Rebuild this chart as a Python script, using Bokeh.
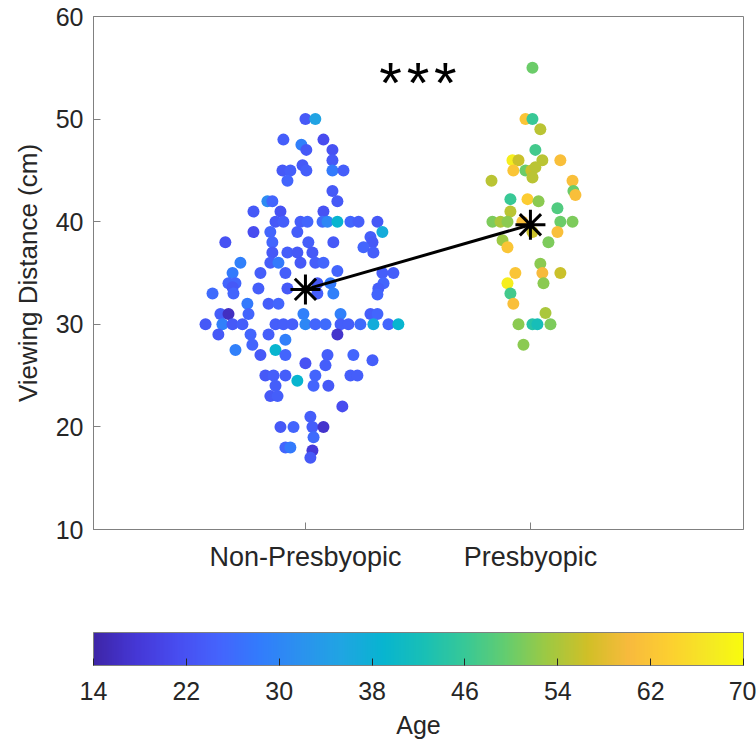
import numpy as np
from bokeh.plotting import figure
from bokeh.models import (ColumnDataSource, LinearColorMapper, ColorBar, FixedTicker,
                          Range1d, Title, Label)
from bokeh.embed import file_html
from bokeh.resources import INLINE

# ---------------- data ----------------
groups = ["Non-Presbyopic", "Presbyopic"]
group_pos = [1, 2]

# Non-presbyopic: horizontal jitter (x offset from group), viewing distance (cm), age
np_offset = [0.000, 0.044, -0.098, 0.080, -0.018, 0.004, 0.120, 0.120,
             -0.102, -0.067, -0.013, 0.004, 0.120, 0.169, -0.080, 0.120,
             0.142, -0.169, -0.147, -0.111, -0.231, 0.080,
             -0.133, -0.098, -0.022, 0.009, 0.076, 0.098, 0.142, 0.200, 0.236, 0.320,
             -0.231, -0.156, -0.036, 0.342, 0.289,
             -0.356, -0.147, 0.013, 0.124, 0.298, 0.258,
             -0.147, -0.080, -0.036, 0.031, 0.302,
             -0.289, -0.156, -0.120, -0.022, 0.044, 0.080,
             -0.324, -0.200, -0.089, 0.142, 0.342, 0.391,
             -0.342, -0.311, 0.053, 0.111, 0.347,
             -0.413, -0.324, -0.320, -0.209, -0.080, 0.053, 0.124, 0.324, 0.320,
             -0.258, -0.164, -0.120,
             -0.253, -0.378, -0.342, -0.009, 0.156, 0.289, 0.320,
             -0.444, -0.369, -0.324, -0.280, -0.133, -0.098, -0.058, 0.000, 0.044,
             0.089, 0.156, 0.191, 0.244, 0.302, 0.369, 0.413,
             -0.387, -0.244, -0.164, 0.142, -0.089, -0.236, -0.311, -0.133,
             -0.200, -0.089, 0.098, 0.213, 0.298, 0.000, 0.089,
             -0.178, -0.142, -0.089, 0.044, 0.200, 0.231, -0.036,
             -0.133, 0.036, 0.102, -0.156, -0.124, 0.164, 0.022,
             -0.111, -0.053, 0.031, 0.080, 0.036, -0.089, -0.067, 0.031, 0.022]
np_dist = [50, 50, 48, 48, 47.5, 47, 47, 46,
           45, 45, 45.5, 45, 45, 45, 44, 43,
           42, 42, 42, 41, 41, 41,
           40, 40, 40, 40, 40, 40, 40, 40, 40, 40,
           39, 39, 39, 39, 38.5,
           38, 38, 38, 38, 38, 37.5,
           37, 37, 37, 37, 37,
           36, 36, 36, 36, 36, 36,
           35, 35, 35, 35.2, 35, 35,
           34, 34, 34, 34, 34,
           33, 33.6, 33, 33.5, 33.5, 33, 33, 33.5, 32.9,
           32, 32, 32,
           31, 31, 31, 31, 31, 31, 31,
           30, 30, 30, 30, 30, 30, 30, 30, 30,
           30, 30, 30, 30, 30, 30, 30,
           29, 29, 29, 29, 28.5, 28, 27.5, 27.5,
           27, 27, 27, 27, 26.5, 26.2, 26,
           25, 25, 25, 25, 25, 25, 24.5,
           24, 24, 24, 23, 23, 22, 21,
           20, 20, 20, 20, 19, 18, 18, 17.7, 17]
np_age = [23, 35, 24, 21, 29, 23, 22, 23,
          23, 24, 23, 24, 28, 24, 25, 23,
          23, 31, 25, 22, 23, 22,
          23, 24, 24, 25, 26, 30, 39, 25, 24, 23,
          21, 25, 24, 37, 24,
          22, 25, 24, 23, 23, 25,
          23, 24, 23, 23, 24,
          29, 24, 28, 23, 24, 25,
          28, 24, 24, 25, 24, 24,
          25, 25, 23, 28, 25,
          26, 23, 25, 24, 23, 24, 29, 24, 25,
          28, 24, 25,
          25, 24, 16, 29, 29, 24, 25,
          23, 29, 23, 24, 24, 24, 24, 30, 25,
          26, 24, 24, 26, 37, 25, 39,
          23, 25, 24, 17, 29, 25, 29, 39,
          23, 25, 24, 25, 24, 22, 24,
          23, 24, 24, 25, 24, 24, 39,
          24, 25, 23, 23, 24, 21, 24,
          23, 25, 24, 17, 26, 25, 28, 18, 23]

# Presbyopic
p_offset = [0.009, -0.022, 0.009, 0.044, 0.022, -0.080, -0.053, 0.053, 0.133,
            -0.076, -0.022, 0.004, 0.022, 0.009, -0.173, 0.187, 0.191, 0.200,
            -0.089, -0.013, 0.036, -0.089, 0.120, -0.169, -0.133, -0.102, -0.036,
            0.009, 0.133, 0.187, 0.120, 0.080, -0.124, -0.102, 0.044, 0.053, 0.058,
            -0.067, 0.133, -0.102, -0.089, -0.076, 0.067, -0.053, 0.009, 0.031,
            0.089, -0.031]
p_dist = [55, 50, 50, 49, 47, 46, 46, 46, 46,
          45, 45, 45, 45.3, 44.3, 44, 44, 43, 42.6,
          42.2, 42.2, 42, 41, 41.3, 40, 40, 40, 40,
          39, 40, 40, 39, 38, 38.2, 37.5, 35.9, 35, 34,
          35, 35, 34, 33, 32, 31.1, 30, 30, 30,
          30, 28]
p_age = [50, 62, 46, 55, 47, 68, 56, 55, 61,
         62, 50, 56, 55, 55, 55, 61, 50, 61,
         46, 63, 52, 55, 48, 51, 54, 52, 61,
         56, 50, 51, 61, 51, 53, 62, 52, 60, 52,
         62, 56, 68, 47, 61, 54, 52, 44, 42,
         51, 52]

mean_dist = [33.4, 39.7]
y_ticks = [10, 20, 30, 40, 50, 60]
age_ticks = [14, 22, 30, 38, 46, 54, 62, 70]
age_low, age_high = 14, 70
sig_text = "*\u200a*\u200a*"

# ---------------- palette (parula) ----------------
_anchor_idx = [0, 4, 8, 12, 16, 20, 24, 28, 32, 36, 40, 44, 48, 52, 56, 60, 63]
_anchor_rgb = [
    (0.2422, 0.1504, 0.6603), (0.2706, 0.2147, 0.8364), (0.2813, 0.3006, 0.9414),
    (0.2699, 0.3892, 0.9906), (0.1963, 0.4847, 0.9892), (0.1687, 0.5703, 0.9359),
    (0.1248, 0.6459, 0.8883), (0.0297, 0.7082, 0.8163), (0.0964, 0.7500, 0.7120),
    (0.2161, 0.7843, 0.5923), (0.3909, 0.8029, 0.4354), (0.6174, 0.7876, 0.2612),
    (0.8203, 0.7498, 0.1535), (0.9728, 0.7298, 0.2394), (0.9892, 0.8136, 0.1885),
    (0.9594, 0.9172, 0.1360), (0.9763, 0.9831, 0.0538)]
_t = np.array(_anchor_idx) / 63.0
_rgb = np.array(_anchor_rgb)
_tt = np.linspace(0, 1, 256)
parula = []
for t in _tt:
    c = [int(round(255 * np.interp(t, _t, _rgb[:, k]))) for k in range(3)]
    parula.append("#%02x%02x%02x" % tuple(c))

FONT = "Liberation Sans"
TEXT = "#262626"
LINE = "#808080"

mapper = LinearColorMapper(palette=parula, low=age_low, high=age_high)

p = figure(width=756, height=745, x_range=Range1d(0.058, 2.947), y_range=Range1d(10, 60),
           output_backend="svg", toolbar_location=None,
           min_border_left=93, min_border_right=13, min_border_top=16, min_border_bottom=0)
p.grid.visible = False
p.outline_line_color = LINE
p.outline_line_width = 1
p.background_fill_color = "white"
p.border_fill_color = "white"

src_np = ColumnDataSource(dict(x=[group_pos[0] + o for o in np_offset], y=np_dist, age=np_age))
src_p = ColumnDataSource(dict(x=[group_pos[1] + o for o in p_offset], y=p_dist, age=p_age))
for s in (src_np, src_p):
    p.scatter("x", "y", source=s, size=12, line_color=None,
              fill_color={"field": "age", "transform": mapper})

p.line(group_pos, mean_dist, line_width=3, line_color="black")
p.scatter(group_pos, mean_dist, marker="asterisk", size=30, line_width=3, line_color="black")

p.add_layout(Label(x=1.5, y=53.6, text=sig_text, text_font=FONT, text_font_size="58px",
                   text_align="center", text_baseline="middle", text_color="black"))

# axes
p.xaxis.ticker = FixedTicker(ticks=group_pos)
p.xaxis.major_label_overrides = {1: groups[0], 2: groups[1]}
p.yaxis.ticker = FixedTicker(ticks=y_ticks)
p.yaxis.axis_label = "Viewing Distance (cm)"
for ax in (p.xaxis[0], p.yaxis[0]):
    ax.axis_line_color = LINE
    ax.major_tick_line_color = LINE
    ax.major_tick_in = 7
    ax.major_tick_out = 0
    ax.minor_tick_line_color = None
    ax.major_label_text_font = FONT
    ax.major_label_text_font_size = "25px"
    ax.major_label_text_color = TEXT
    ax.axis_label_text_font = FONT
    ax.axis_label_text_font_size = "26px"
    ax.axis_label_text_font_style = "normal"
    ax.axis_label_text_color = TEXT
p.xaxis.major_label_text_font_size = "27px"
p.yaxis.major_label_standoff = 10
p.yaxis.axis_label_standoff = 10
p.xaxis.major_label_standoff = 12

cb = ColorBar(color_mapper=mapper, orientation="horizontal", ticker=FixedTicker(ticks=age_ticks),
              width="auto", height=33, padding=0, margin=0,
              title="\u00a0", title_text_font_size="25px", title_standoff=28,
              major_label_text_font=FONT, major_label_text_font_size="25px",
              major_label_text_color=TEXT, label_standoff=16,
              major_tick_in=7, major_tick_out=0, major_tick_line_color=TEXT,
              minor_tick_line_color=None, bar_line_color=LINE,
              background_fill_alpha=0, border_line_color=None)
p.add_layout(cb, "below")
p.add_layout(Title(text="Age", align="center", text_font=FONT, text_font_size="25px",
                   text_font_style="normal", text_color=TEXT, standoff=13), "below")

open("out.html", "w").write(file_html(p, INLINE))
